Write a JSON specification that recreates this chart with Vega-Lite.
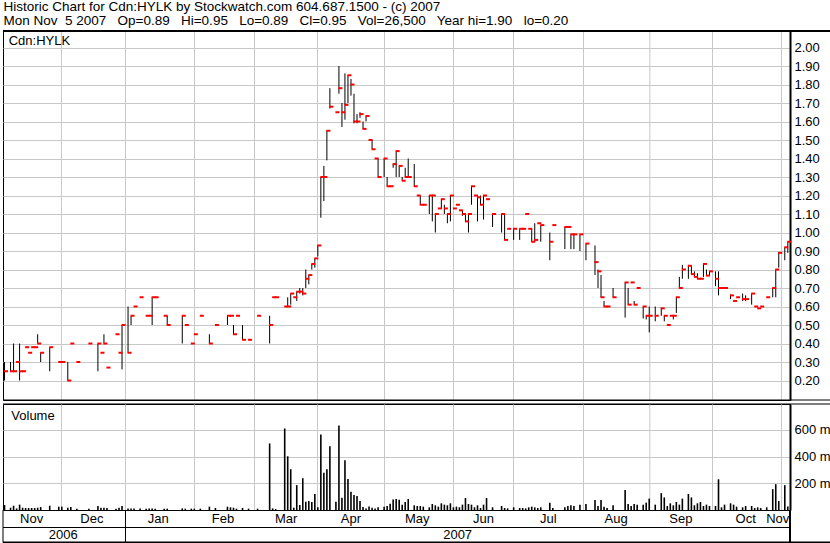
{
  "$schema": "https://vega.github.io/schema/vega-lite/v6.json",
  "padding": {"left": 1, "top": 0, "right": 0, "bottom": 0},
  "background": "white",
  "title": {
    "text": ["Historic Chart for Cdn:HYLK by Stockwatch.com 604.687.1500 - (c) 2007", "Mon Nov \u00a05 2007 \u00a0 Op=0.89 \u00a0 Hi=0.95 \u00a0 Lo=0.89 \u00a0 Cl=0.95 \u00a0 Vol=26,500 \u00a0 Year hi=1.90 \u00a0 lo=0.20"],
    "anchor": "start", "frame": "bounds", "offset": 2, "dx": 2,
    "fontSize": 13.5, "lineHeight": 14, "font": "Liberation Sans", "fontWeight": "normal", "color": "black", "baseline": "top"
  },
  "config": {
    "view": {"stroke": "black", "strokeWidth": 1},
    "font": "Liberation Sans",
    "axis": {"gridColor": "#c8c8c8", "gridOpacity": 1, "gridWidth": 1, "labelFont": "Liberation Sans", "labelFontSize": 13, "labelColor": "black", "title": null}
  },
  "datasets": {
    "grid": [{"g":18.9},{"g":40.15},{"g":63.06},{"g":82.98},{"g":103.89},{"g":126.13},{"g":149.03},{"g":168.95},{"g":192.18},{"g":214.2},{"g":235.0},{"g":257.9}],
    "px": [
      {"i":0,"h":0.30,"l":0.20,"c":0.25,"v":37},
      {"i":2,"h":0.30,"l":0.25,"c":0.25,"v":17},
      {"i":3,"h":0.40,"l":0.25,"c":0.25,"v":32},
      {"i":4,"h":0.30,"l":0.30,"c":0.30,"v":12},
      {"i":5,"h":0.40,"l":0.20,"c":0.25,"v":40},
      {"i":6,"h":0.25,"l":0.25,"c":0.25,"v":17},
      {"i":7,"h":0.38,"l":0.38,"c":0.38,"v":15},
      {"i":8,"h":0.35,"l":0.35,"c":0.35,"v":15},
      {"i":9,"h":0.38,"l":0.38,"c":0.38,"v":15},
      {"i":10,"h":0.38,"l":0.38,"c":0.38,"v":15},
      {"i":11,"h":0.45,"l":0.40,"c":0.40,"v":17},
      {"i":12,"h":0.35,"l":0.30,"c":0.35,"v":22},
      {"i":15,"h":0.38,"l":0.25,"c":0.38,"v":32},
      {"i":18,"h":0.30,"l":0.30,"c":0.30,"v":25},
      {"i":19,"h":0.30,"l":0.30,"c":0.30,"v":25},
      {"i":21,"h":0.30,"l":0.20,"c":0.20,"v":17},
      {"i":22,"h":0.40,"l":0.40,"c":0.40,"v":22},
      {"i":24,"h":0.30,"l":0.30,"c":0.30,"v":10},
      {"i":28,"h":0.40,"l":0.40,"c":0.40,"v":10},
      {"i":31,"h":0.40,"l":0.25,"c":0.40,"v":30},
      {"i":32,"h":0.35,"l":0.35,"c":0.35,"v":17},
      {"i":33,"h":0.45,"l":0.40,"c":0.40,"v":17},
      {"i":34,"h":0.27,"l":0.27,"c":0.27,"v":15},
      {"i":37,"h":0.45,"l":0.45,"c":0.45,"v":10},
      {"i":38,"h":0.35,"l":0.35,"c":0.35,"v":17},
      {"i":39,"h":0.50,"l":0.26,"c":0.50,"v":30},
      {"i":41,"h":0.60,"l":0.35,"c":0.35,"v":12},
      {"i":42,"h":0.55,"l":0.50,"c":0.55,"v":12},
      {"i":43,"h":0.60,"l":0.60,"c":0.60,"v":12},
      {"i":45,"h":0.65,"l":0.65,"c":0.65,"v":12},
      {"i":47,"h":0.55,"l":0.55,"c":0.55,"v":10},
      {"i":48,"h":0.55,"l":0.55,"c":0.55,"v":12},
      {"i":49,"h":0.65,"l":0.50,"c":0.65,"v":12},
      {"i":50,"h":0.65,"l":0.65,"c":0.65,"v":10},
      {"i":53,"h":0.55,"l":0.55,"c":0.55,"v":10},
      {"i":54,"h":0.55,"l":0.50,"c":0.50,"v":10},
      {"i":59,"h":0.55,"l":0.40,"c":0.55,"v":12},
      {"i":60,"h":0.50,"l":0.50,"c":0.50,"v":10},
      {"i":62,"h":0.40,"l":0.40,"c":0.40,"v":10},
      {"i":63,"h":0.45,"l":0.45,"c":0.45,"v":10},
      {"i":65,"h":0.55,"l":0.55,"c":0.55,"v":10},
      {"i":68,"h":0.45,"l":0.40,"c":0.40,"v":25},
      {"i":70,"h":0.50,"l":0.50,"c":0.50,"v":15},
      {"i":74,"h":0.55,"l":0.50,"c":0.55,"v":25},
      {"i":75,"h":0.55,"l":0.55,"c":0.55,"v":20},
      {"i":76,"h":0.50,"l":0.45,"c":0.45,"v":17},
      {"i":77,"h":0.55,"l":0.55,"c":0.55,"v":10},
      {"i":79,"h":0.50,"l":0.42,"c":0.42,"v":15},
      {"i":81,"h":0.42,"l":0.42,"c":0.42,"v":10},
      {"i":84,"h":0.55,"l":0.55,"c":0.55,"v":10},
      {"i":88,"h":0.55,"l":0.40,"c":0.50,"v":498},
      {"i":89,"h":0.65,"l":0.65,"c":0.65,"v":12},
      {"i":90,"h":0.65,"l":0.65,"c":0.65,"v":7},
      {"i":93,"h":0.60,"l":0.60,"c":0.60,"v":610},
      {"i":94,"h":0.65,"l":0.60,"c":0.60,"v":402},
      {"i":95,"h":0.67,"l":0.61,"c":0.67,"v":305},
      {"i":96,"h":0.65,"l":0.65,"c":0.65,"v":17},
      {"i":97,"h":0.68,"l":0.63,"c":0.68,"v":186},
      {"i":98,"h":0.70,"l":0.67,"c":0.68,"v":37},
      {"i":99,"h":0.70,"l":0.66,"c":0.67,"v":238},
      {"i":100,"h":0.80,"l":0.70,"c":0.75,"v":62},
      {"i":101,"h":0.77,"l":0.72,"c":0.77,"v":67},
      {"i":102,"h":0.83,"l":0.80,"c":0.83,"v":60},
      {"i":103,"h":0.86,"l":0.81,"c":0.86,"v":119},
      {"i":104,"h":0.93,"l":0.87,"c":0.93,"v":20},
      {"i":105,"h":1.30,"l":1.08,"c":1.30,"v":565},
      {"i":106,"h":1.36,"l":1.17,"c":1.30,"v":278},
      {"i":107,"h":1.55,"l":1.39,"c":1.55,"v":305},
      {"i":108,"h":1.78,"l":1.67,"c":1.68,"v":476},
      {"i":110,"h":1.65,"l":1.65,"c":1.65,"v":62},
      {"i":111,"h":1.90,"l":1.75,"c":1.78,"v":632},
      {"i":112,"h":1.70,"l":1.57,"c":1.65,"v":92},
      {"i":113,"h":1.86,"l":1.61,"c":1.69,"v":372},
      {"i":114,"h":1.85,"l":1.70,"c":1.85,"v":231},
      {"i":115,"h":1.83,"l":1.74,"c":1.80,"v":136},
      {"i":116,"h":1.75,"l":1.59,"c":1.60,"v":112},
      {"i":117,"h":1.64,"l":1.59,"c":1.60,"v":104},
      {"i":118,"h":1.65,"l":1.62,"c":1.64,"v":67},
      {"i":119,"h":1.60,"l":1.56,"c":1.56,"v":22},
      {"i":120,"h":1.63,"l":1.60,"c":1.63,"v":12},
      {"i":121,"h":1.50,"l":1.50,"c":1.50,"v":27},
      {"i":122,"h":1.50,"l":1.45,"c":1.45,"v":17},
      {"i":123,"h":1.40,"l":1.40,"c":1.40,"v":12},
      {"i":124,"h":1.40,"l":1.30,"c":1.30,"v":20},
      {"i":126,"h":1.40,"l":1.30,"c":1.40,"v":25},
      {"i":127,"h":1.30,"l":1.25,"c":1.25,"v":30},
      {"i":128,"h":1.25,"l":1.25,"c":1.25,"v":47},
      {"i":129,"h":1.37,"l":1.35,"c":1.37,"v":79},
      {"i":130,"h":1.44,"l":1.30,"c":1.44,"v":82},
      {"i":131,"h":1.36,"l":1.30,"c":1.36,"v":76},
      {"i":132,"h":1.30,"l":1.28,"c":1.28,"v":40},
      {"i":133,"h":1.35,"l":1.30,"c":1.30,"v":60},
      {"i":134,"h":1.40,"l":1.30,"c":1.30,"v":82},
      {"i":136,"h":1.37,"l":1.25,"c":1.25,"v":35},
      {"i":137,"h":1.20,"l":1.20,"c":1.20,"v":30},
      {"i":138,"h":1.20,"l":1.15,"c":1.15,"v":30},
      {"i":139,"h":1.15,"l":1.15,"c":1.15,"v":25},
      {"i":141,"h":1.20,"l":1.10,"c":1.20,"v":20},
      {"i":142,"h":1.20,"l":1.06,"c":1.20,"v":45},
      {"i":143,"h":1.10,"l":1.00,"c":1.10,"v":35},
      {"i":144,"h":1.13,"l":1.13,"c":1.13,"v":25},
      {"i":145,"h":1.18,"l":1.13,"c":1.18,"v":50},
      {"i":146,"h":1.15,"l":1.10,"c":1.13,"v":40},
      {"i":147,"h":1.10,"l":1.05,"c":1.10,"v":35},
      {"i":148,"h":1.20,"l":1.06,"c":1.20,"v":50},
      {"i":149,"h":1.13,"l":1.13,"c":1.13,"v":20},
      {"i":150,"h":1.15,"l":1.15,"c":1.15,"v":25},
      {"i":151,"h":1.12,"l":1.12,"c":1.12,"v":20},
      {"i":152,"h":1.12,"l":1.09,"c":1.10,"v":40},
      {"i":153,"h":1.10,"l":1.06,"c":1.06,"v":90},
      {"i":154,"h":1.10,"l":1.00,"c":1.10,"v":45},
      {"i":155,"h":1.25,"l":1.15,"c":1.25,"v":40},
      {"i":156,"h":1.20,"l":1.20,"c":1.20,"v":20},
      {"i":157,"h":1.20,"l":1.06,"c":1.19,"v":35},
      {"i":158,"h":1.20,"l":1.15,"c":1.15,"v":15},
      {"i":159,"h":1.20,"l":1.07,"c":1.20,"v":40},
      {"i":160,"h":1.18,"l":1.18,"c":1.18,"v":90},
      {"i":162,"h":1.10,"l":1.03,"c":1.10,"v":20},
      {"i":165,"h":1.10,"l":1.00,"c":1.10,"v":30},
      {"i":166,"h":1.10,"l":0.96,"c":0.96,"v":15},
      {"i":167,"h":1.02,"l":1.02,"c":1.02,"v":12},
      {"i":169,"h":1.02,"l":0.96,"c":1.02,"v":20},
      {"i":171,"h":1.02,"l":0.96,"c":1.02,"v":15},
      {"i":172,"h":1.02,"l":1.02,"c":1.02,"v":15},
      {"i":173,"h":1.10,"l":1.10,"c":1.10,"v":12},
      {"i":174,"h":1.02,"l":1.02,"c":1.02,"v":20},
      {"i":175,"h":1.02,"l":0.95,"c":0.95,"v":25},
      {"i":176,"h":1.05,"l":0.95,"c":0.96,"v":20},
      {"i":177,"h":1.05,"l":1.05,"c":1.05,"v":15},
      {"i":178,"h":1.04,"l":0.95,"c":1.04,"v":20},
      {"i":181,"h":1.00,"l":0.85,"c":0.95,"v":55},
      {"i":182,"h":1.04,"l":1.04,"c":1.04,"v":15},
      {"i":186,"h":1.03,"l":0.91,"c":1.03,"v":20},
      {"i":187,"h":1.03,"l":1.03,"c":1.03,"v":30},
      {"i":188,"h":0.99,"l":0.91,"c":0.99,"v":35},
      {"i":189,"h":0.99,"l":0.91,"c":0.99,"v":30},
      {"i":191,"h":0.99,"l":0.90,"c":0.99,"v":40},
      {"i":193,"h":0.94,"l":0.85,"c":0.94,"v":45},
      {"i":196,"h":0.93,"l":0.77,"c":0.84,"v":75},
      {"i":197,"h":0.80,"l":0.70,"c":0.79,"v":30},
      {"i":198,"h":0.77,"l":0.65,"c":0.65,"v":75},
      {"i":199,"h":0.63,"l":0.60,"c":0.60,"v":25},
      {"i":200,"h":0.60,"l":0.60,"c":0.60,"v":15},
      {"i":202,"h":0.70,"l":0.65,"c":0.65,"v":35},
      {"i":206,"h":0.73,"l":0.54,"c":0.73,"v":150},
      {"i":207,"h":0.70,"l":0.61,"c":0.61,"v":45},
      {"i":208,"h":0.73,"l":0.73,"c":0.73,"v":30},
      {"i":209,"h":0.63,"l":0.61,"c":0.61,"v":45},
      {"i":210,"h":0.70,"l":0.70,"c":0.70,"v":40},
      {"i":212,"h":0.60,"l":0.535,"c":0.60,"v":40},
      {"i":213,"h":0.55,"l":0.53,"c":0.55,"v":55},
      {"i":214,"h":0.60,"l":0.46,"c":0.55,"v":85},
      {"i":216,"h":0.60,"l":0.52,"c":0.55,"v":40},
      {"i":218,"h":0.595,"l":0.55,"c":0.59,"v":126},
      {"i":219,"h":0.55,"l":0.52,"c":0.55,"v":94},
      {"i":220,"h":0.50,"l":0.50,"c":0.50,"v":30},
      {"i":221,"h":0.55,"l":0.55,"c":0.55,"v":50},
      {"i":222,"h":0.55,"l":0.53,"c":0.55,"v":35},
      {"i":223,"h":0.65,"l":0.565,"c":0.65,"v":60},
      {"i":224,"h":0.76,"l":0.70,"c":0.70,"v":40},
      {"i":225,"h":0.825,"l":0.75,"c":0.80,"v":85},
      {"i":227,"h":0.825,"l":0.75,"c":0.82,"v":120},
      {"i":228,"h":0.82,"l":0.775,"c":0.775,"v":94},
      {"i":229,"h":0.79,"l":0.76,"c":0.76,"v":35},
      {"i":230,"h":0.78,"l":0.75,"c":0.75,"v":50},
      {"i":231,"h":0.75,"l":0.75,"c":0.75,"v":60},
      {"i":232,"h":0.835,"l":0.76,"c":0.83,"v":30},
      {"i":233,"h":0.80,"l":0.767,"c":0.767,"v":40},
      {"i":234,"h":0.79,"l":0.77,"c":0.79,"v":30},
      {"i":236,"h":0.79,"l":0.71,"c":0.75,"v":30},
      {"i":237,"h":0.79,"l":0.66,"c":0.70,"v":230},
      {"i":238,"h":0.70,"l":0.70,"c":0.70,"v":20},
      {"i":239,"h":0.70,"l":0.70,"c":0.70,"v":40},
      {"i":241,"h":0.665,"l":0.64,"c":0.66,"v":50},
      {"i":242,"h":0.63,"l":0.63,"c":0.63,"v":40},
      {"i":243,"h":0.65,"l":0.65,"c":0.65,"v":25},
      {"i":245,"h":0.67,"l":0.63,"c":0.64,"v":20},
      {"i":246,"h":0.66,"l":0.63,"c":0.64,"v":30},
      {"i":248,"h":0.67,"l":0.61,"c":0.67,"v":30},
      {"i":249,"h":0.60,"l":0.60,"c":0.60,"v":15},
      {"i":250,"h":0.59,"l":0.59,"c":0.59,"v":20},
      {"i":251,"h":0.60,"l":0.60,"c":0.60,"v":15},
      {"i":253,"h":0.65,"l":0.65,"c":0.65,"v":20},
      {"i":255,"h":0.70,"l":0.65,"c":0.70,"v":156},
      {"i":256,"h":0.80,"l":0.65,"c":0.80,"v":193},
      {"i":257,"h":0.895,"l":0.81,"c":0.89,"v":67},
      {"i":259,"h":0.92,"l":0.85,"c":0.92,"v":186},
      {"i":260,"h":0.95,"l":0.89,"c":0.95,"v":26.5}
    ],
    "months": [
      {"m":"Nov","t":9},{"m":"Dec","t":29},{"m":"Jan","t":51},{"m":"Feb","t":72.5},
      {"m":"Mar","t":93.5},{"m":"Apr","t":115},{"m":"May","t":137},{"m":"Jun","t":159},
      {"m":"Jul","t":180.5},{"m":"Aug","t":203},{"m":"Sep","t":224.5},{"m":"Oct","t":246}
    ],
    "years": [{"y":"2006","t":19.5},{"y":"2007","t":150.4}]
  },
  "spacing": 2,
  "vconcat": [
    {
      "width": 787, "height": 369,
      "layer": [
        {
          "data": {"name": "grid"},
          "mark": {"type": "rule", "color": "#c8c8c8", "strokeWidth": 1},
          "encoding": {
            "x": {"field": "g", "type": "quantitative", "scale": {"domain": [-0.508, 260.73], "nice": false, "zero": false}, "axis": null}
          }
        },
        {
          "data": {"name": "px"},
          "mark": {"type": "rule", "color": "black", "strokeWidth": 1},
          "encoding": {
            "x": {"field": "i", "type": "quantitative", "axis": null},
            "y": {"field": "l", "type": "quantitative",
                  "scale": {"domain": [0.0946, 2.0892], "nice": false, "zero": false},
                  "axis": {"orient": "right", "values": [0.2,0.3,0.4,0.5,0.6,0.7,0.8,0.9,1.0,1.1,1.2,1.3,1.4,1.5,1.6,1.7,1.8,1.9,2.0], "format": ".2f", "grid": true, "ticks": false, "domain": true, "domainColor": "black", "domainWidth": 2, "labelPadding": 4, "labelOverlap": false, "labelFlush": false}},
            "y2": {"field": "h"}
          }
        },
        {
          "data": {"name": "px"},
          "mark": {"type": "tick", "orient": "horizontal", "color": "#ff0000", "opacity": 1, "thickness": 2, "size": 4, "xOffset": 1.5},
          "encoding": {
            "x": {"field": "i", "type": "quantitative", "axis": null},
            "y": {"field": "c", "type": "quantitative",
                  "axis": {"orient": "right", "values": [0.2,0.3,0.4,0.5,0.6,0.7,0.8,0.9,1.0,1.1,1.2,1.3,1.4,1.5,1.6,1.7,1.8,1.9,2.0], "format": ".2f", "grid": true, "ticks": false, "domain": true, "domainColor": "black", "domainWidth": 2, "labelPadding": 4, "labelOverlap": false, "labelFlush": false}}
          }
        },
        {
          "data": {"values": [{"i": 1.38, "c": 2.016, "label": "Cdn:HYLK"}]},
          "mark": {"type": "text", "align": "left", "baseline": "alphabetic", "fontSize": 13, "font": "Liberation Sans", "color": "black"},
          "encoding": {
            "x": {"field": "i", "type": "quantitative", "axis": null},
            "y": {"field": "c", "type": "quantitative",
                  "axis": {"orient": "right", "values": [0.2,0.3,0.4,0.5,0.6,0.7,0.8,0.9,1.0,1.1,1.2,1.3,1.4,1.5,1.6,1.7,1.8,1.9,2.0], "format": ".2f", "grid": true, "ticks": false, "domain": true, "domainColor": "black", "domainWidth": 2, "labelPadding": 4, "labelOverlap": false, "labelFlush": false}},
            "text": {"field": "label"}
          }
        },
        {
          "data": {"values": [{"x0": -0.508, "x1": 274.3, "y0": 2.0892}]},
          "mark": {"type": "rule", "color": "black", "strokeWidth": 2},
          "encoding": {
            "x": {"field": "x0", "type": "quantitative", "axis": null},
            "x2": {"field": "x1"},
            "y": {"field": "y0", "type": "quantitative",
                  "axis": {"orient": "right", "values": [0.2,0.3,0.4,0.5,0.6,0.7,0.8,0.9,1.0,1.1,1.2,1.3,1.4,1.5,1.6,1.7,1.8,1.9,2.0], "format": ".2f", "grid": true, "ticks": false, "domain": true, "domainColor": "black", "domainWidth": 2, "labelPadding": 4, "labelOverlap": false, "labelFlush": false}}
          }
        },
        {
          "data": {"values": [{"x0": -0.508, "x1": 274.3, "y0": 0.0946}]},
          "mark": {"type": "rule", "color": "black", "strokeWidth": 1},
          "encoding": {
            "x": {"field": "x0", "type": "quantitative", "axis": null},
            "x2": {"field": "x1"},
            "y": {"field": "y0", "type": "quantitative",
                  "axis": {"orient": "right", "values": [0.2,0.3,0.4,0.5,0.6,0.7,0.8,0.9,1.0,1.1,1.2,1.3,1.4,1.5,1.6,1.7,1.8,1.9,2.0], "format": ".2f", "grid": true, "ticks": false, "domain": true, "domainColor": "black", "domainWidth": 2, "labelPadding": 4, "labelOverlap": false, "labelFlush": false}}
          }
        }
      ]
    },
    {
      "width": 787, "height": 106,
      "layer": [
        {
          "data": {"name": "grid"},
          "mark": {"type": "rule", "color": "#c8c8c8", "strokeWidth": 1},
          "encoding": {
            "x": {"field": "g", "type": "quantitative", "scale": {"domain": [-0.508, 260.73], "nice": false, "zero": false}, "axis": null}
          }
        },
        {
          "data": {"name": "px"},
          "mark": {"type": "rule", "color": "black", "strokeWidth": 1.6},
          "encoding": {
            "x": {"field": "i", "type": "quantitative", "axis": null},
            "y": {"field": "v", "type": "quantitative",
                  "scale": {"domain": [0, 793], "nice": false},
                  "axis": {"orient": "right", "values": [200, 400, 600], "labelExpr": "datum.value + ' m'", "grid": true, "ticks": false, "domain": true, "domainColor": "black", "domainWidth": 2, "labelPadding": 4}},
            "y2": {"datum": 0}
          }
        },
        {
          "data": {"values": [{"i": 2.25, "v": 673, "label": "Volume"}]},
          "mark": {"type": "text", "align": "left", "baseline": "alphabetic", "fontSize": 13, "font": "Liberation Sans", "color": "black"},
          "encoding": {
            "x": {"field": "i", "type": "quantitative", "axis": null},
            "y": {"field": "v", "type": "quantitative",
                  "axis": {"orient": "right", "values": [200, 400, 600], "labelExpr": "datum.value + ' m'", "grid": true, "ticks": false, "domain": true, "domainColor": "black", "domainWidth": 2, "labelPadding": 4}},
            "text": {"field": "label"}
          }
        },
        {
          "data": {"name": "months"},
          "mark": {"type": "text", "fontSize": 13, "font": "Liberation Sans", "color": "black", "baseline": "middle"},
          "encoding": {
            "x": {"field": "t", "type": "quantitative", "axis": null},
            "y": {"datum": -71, "type": "quantitative",
                  "axis": {"orient": "right", "values": [200, 400, 600], "labelExpr": "datum.value + ' m'", "grid": true, "ticks": false, "domain": true, "domainColor": "black", "domainWidth": 2, "labelPadding": 4}},
            "text": {"field": "m"}
          }
        },
        {
          "data": {"values": [{"m": "Nov", "t": 260.5}]},
          "mark": {"type": "text", "fontSize": 13, "font": "Liberation Sans", "color": "black", "baseline": "middle", "align": "right"},
          "encoding": {
            "x": {"field": "t", "type": "quantitative", "axis": null},
            "y": {"datum": -71, "type": "quantitative",
                  "axis": {"orient": "right", "values": [200, 400, 600], "labelExpr": "datum.value + ' m'", "grid": true, "ticks": false, "domain": true, "domainColor": "black", "domainWidth": 2, "labelPadding": 4}},
            "text": {"field": "m"}
          }
        },
        {
          "data": {"name": "years"},
          "mark": {"type": "text", "fontSize": 13, "font": "Liberation Sans", "color": "black", "baseline": "middle"},
          "encoding": {
            "x": {"field": "t", "type": "quantitative", "axis": null},
            "y": {"datum": -190, "type": "quantitative",
                  "axis": {"orient": "right", "values": [200, 400, 600], "labelExpr": "datum.value + ' m'", "grid": true, "ticks": false, "domain": true, "domainColor": "black", "domainWidth": 2, "labelPadding": 4}},
            "text": {"field": "y"}
          }
        },
        {
          "data": {"values": [{"x0": -0.508, "x1": 274.3, "y0": 793}, {"x0": -0.508, "x1": 260.73, "y0": -131}]},
          "mark": {"type": "rule", "color": "black", "strokeWidth": 1},
          "encoding": {
            "x": {"field": "x0", "type": "quantitative", "axis": null},
            "x2": {"field": "x1"},
            "y": {"field": "y0", "type": "quantitative",
                  "axis": {"orient": "right", "values": [200, 400, 600], "labelExpr": "datum.value + ' m'", "grid": true, "ticks": false, "domain": true, "domainColor": "black", "domainWidth": 2, "labelPadding": 4}}
          }
        },
        {
          "data": {"values": [{"x0": -0.508, "x1": 274.3, "y0": -243}]},
          "mark": {"type": "rule", "color": "black", "strokeWidth": 2},
          "encoding": {
            "x": {"field": "x0", "type": "quantitative", "axis": null},
            "x2": {"field": "x1"},
            "y": {"field": "y0", "type": "quantitative",
                  "axis": {"orient": "right", "values": [200, 400, 600], "labelExpr": "datum.value + ' m'", "grid": true, "ticks": false, "domain": true, "domainColor": "black", "domainWidth": 2, "labelPadding": 4}}
          }
        },
        {
          "data": {"values": [{"x0": 40.15, "y0": 0, "y1": -243, "w": 1}, {"x0": -0.508, "y0": 0, "y1": -243, "w": 1}, {"x0": 260.73, "y0": 0, "y1": -243, "w": 2}]},
          "mark": {"type": "rule", "color": "black"},
          "encoding": {
            "x": {"field": "x0", "type": "quantitative", "axis": null},
            "y": {"field": "y0", "type": "quantitative",
                  "axis": {"orient": "right", "values": [200, 400, 600], "labelExpr": "datum.value + ' m'", "grid": true, "ticks": false, "domain": true, "domainColor": "black", "domainWidth": 2, "labelPadding": 4}},
            "y2": {"field": "y1"},
            "strokeWidth": {"field": "w", "type": "quantitative", "scale": null, "legend": null}
          }
        }
      ]
    }
  ]
}
